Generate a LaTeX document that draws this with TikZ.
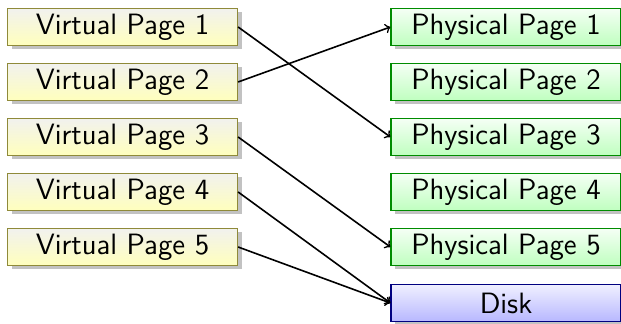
\documentclass[tikz,border=0pt]{standalone}
\usetikzlibrary{shadows}
\tikzset{
	page/.style={draw,semithick,minimum width=115pt,minimum height=18.5pt,inner ysep=1pt,
		font=\sffamily\fontsize{14.7}{17}\selectfont,drop shadow={shadow xshift=2pt,shadow yshift=-2pt,fill=black!40,opacity=.6}},
	virt/.style={page,draw=olive!60!gray,top color=yellow!12!gray!12,bottom color=yellow!26},
	phys/.style={page,draw=green!55!black,top color=green!4,bottom color=green!25},
	disk/.style={page,draw=blue!50!black,top color=blue!6,bottom color=blue!28},
}

\begin{document}
\begin{tikzpicture}[x=.5pt,y=.5pt]
					\useasboundingbox (0,0) rectangle (621,-324);
						\node(v1)[virt] at (122.5,-27) {Virtual Page 1};
						\node(v2)[virt] at (122.5,-82) {Virtual Page 2};
						\node(v3)[virt] at (122.5,-137) {Virtual Page 3};
						\node(v4)[virt] at (122.5,-192) {Virtual Page 4};
						\node(v5)[virt] at (122.5,-247) {Virtual Page 5};
						\node(p1)[phys] at (506,-27) {Physical Page 1};
						\node(p2)[phys] at (506,-82) {Physical Page 2};
						\node(p3)[phys] at (506,-137) {Physical Page 3};
						\node(p4)[phys] at (506,-192) {Physical Page 4};
						\node(p5)[phys] at (506,-247) {Physical Page 5};
						\node(d)[disk] at (506,-303) {Disk};
						\draw[thick,->] (v1.east) -- (p3.west);
						\draw[thick,->] (v2.east) -- (p1.west);
						\draw[thick,->] (v3.east) -- (p5.west);
						\draw[thick,->] (v4.east) -- (d.west);
						\draw[thick,->] (v5.east) -- (d.west);
				\end{tikzpicture}
\end{document}
